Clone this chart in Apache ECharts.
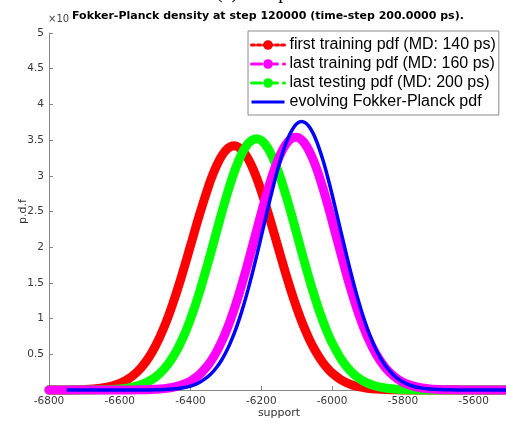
<!DOCTYPE html>
<html>
<head>
<meta charset="utf-8">
<script src="https://cdn.jsdelivr.net/npm/echarts@6/dist/echarts.min.js"></script>
<style>
  html, body { margin: 0; padding: 0; background: #fff; }
  #chart { width: 506px; height: 423px; }
</style>
</head>
<body>
<div id="chart"></div>
<script>
// support grid (x values), finer around the peaks
var support = [
  -6800, -6775, -6750, -6725, -6700, -6675, -6650, -6625, -6600, -6575,
  -6550, -6525, -6500, -6475, -6450, -6425, -6400, -6375, -6350,
  -6337.5, -6325, -6312.5, -6300, -6287.5, -6275, -6262.5, -6250, -6237.5, -6225,
  -6212.5, -6200, -6187.5, -6175, -6162.5, -6150, -6137.5, -6125, -6112.5, -6100,
  -6087.5, -6075, -6062.5, -6050, -6037.5, -6025, -6012.5, -6000,
  -5975, -5950, -5925, -5900, -5875, -5850, -5825, -5800, -5775, -5750,
  -5725, -5700, -5675, -5650, -5625, -5600, -5575, -5550, -5525, -5500
];

// p.d.f values, in units of 1e-3
var firstTraining = [
  0.000, 0.001, 0.001, 0.003, 0.007, 0.014, 0.027, 0.051, 0.091, 0.157,
  0.257, 0.404, 0.608, 0.877, 1.210, 1.598, 2.023, 2.450, 2.842,
  3.012, 3.157, 3.274, 3.358, 3.407, 3.420, 3.395, 3.334, 3.240, 3.114,
  2.960, 2.784, 2.590, 2.383, 2.170, 1.954, 1.740, 1.533, 1.337, 1.152,
  0.983, 0.829, 0.692, 0.572, 0.467, 0.377, 0.301, 0.238,
  0.144, 0.083, 0.046, 0.025, 0.013, 0.006, 0.003, 0.001, 0.001, 0,
  0, 0, 0, 0, 0, 0, 0, 0, 0, 0
];
var lastTesting = [
  0, 0, 0, 0, 0.001, 0.001, 0.003, 0.007, 0.015, 0.030,
  0.057, 0.103, 0.177, 0.292, 0.460, 0.692, 0.995, 1.366, 1.791,
  2.017, 2.244, 2.470, 2.687, 2.890, 3.073, 3.230, 3.357, 3.450, 3.504,
  3.520, 3.495, 3.431, 3.330, 3.195, 3.031, 2.842, 2.636, 2.416, 2.190,
  1.962, 1.738, 1.522, 1.318, 1.128, 0.955, 0.799, 0.661,
  0.437, 0.276, 0.167, 0.096, 0.053, 0.028, 0.014, 0.007, 0.003, 0.001,
  0.001, 0, 0, 0, 0, 0, 0, 0, 0, 0
];
var lastTraining = [
  0, 0, 0, 0, 0, 0, 0, 0, 0.000, 0.001,
  0.002, 0.004, 0.009, 0.019, 0.037, 0.070, 0.126, 0.216, 0.353,
  0.443, 0.549, 0.673, 0.816, 0.977, 1.157, 1.353, 1.564, 1.786, 2.017,
  2.250, 2.481, 2.702, 2.910, 3.097, 3.257, 3.384, 3.476, 3.528, 3.539,
  3.508, 3.437, 3.327, 3.183, 3.010, 2.813, 2.597, 2.370,
  1.906, 1.461, 1.069, 0.746, 0.496, 0.315, 0.191, 0.110, 0.061, 0.032,
  0.016, 0.008, 0.003, 0.002, 0.001, 0, 0, 0, 0, 0
];
var fokkerPlanck = [
  null, null, 0, 0, 0, 0, 0, 0, 0, 0,
  0, 0.001, 0.002, 0.006, 0.013, 0.027, 0.055, 0.105, 0.190,
  0.250, 0.325, 0.417, 0.528, 0.660, 0.813, 0.989, 1.187, 1.406, 1.643,
  1.893, 2.154, 2.418, 2.677, 2.926, 3.155, 3.356, 3.523, 3.648, 3.728,
  3.760, 3.741, 3.672, 3.557, 3.399, 3.206, 2.983, 2.738,
  2.217, 1.702, 1.238, 0.853, 0.558, 0.345, 0.203, 0.113, 0.060, 0.030,
  0.014, 0.006, 0.003, 0.001, 0, 0, 0, 0, 0, 0
];

var names = {
  first: 'first training pdf (MD: 140 ps)',
  train: 'last training pdf (MD: 160 ps)',
  test: 'last testing pdf (MD: 200 ps)',
  fp: 'evolving Fokker-Planck pdf'
};

function pairs(vals) {
  return support.map(function (x, i) { return [x, vals[i]]; });
}

var chart = echarts.init(document.getElementById('chart'));

var thick = function (name, color, vals) {
  return {
    name: name,
    type: 'line',
    data: pairs(vals),
    smooth: 0.3,
    symbol: 'circle',
    showSymbol: false,
    clip: false,
    color: color,
    lineStyle: { width: 9, color: color, cap: 'round', join: 'round' },
    emphasis: { disabled: true }
  };
};

var option = {
  animation: false,
  textStyle: { fontFamily: 'DejaVu Sans' },
  title: {
    text: 'Fokker-Planck density at step 120000 (time-step 200.0000 ps).',
    left: 72,
    top: 11,
    padding: 0,
    textStyle: { fontSize: 11, fontWeight: 'bold', color: '#000', fontFamily: 'DejaVu Sans' }
  },
  graphic: [
    {
      type: 'text', left: 216, top: -17,
      style: { text: '(c) 160 ps', fontSize: 20, fontFamily: 'Liberation Serif', fill: '#000' }
    },
    {
      type: 'text', left: 48, top: 14,
      style: { text: '\u00d710', fontSize: 10, fontFamily: 'DejaVu Sans', fill: '#444' }
    }
  ],
  legend: {
    left: 248,
    top: 31,
    orient: 'vertical',
    padding: [6, 3, 5, 2],
    itemWidth: 33,
    itemHeight: 12,
    itemGap: 3,
    borderColor: '#8a8a8a',
    borderWidth: 1,
    backgroundColor: '#fff',
    selectedMode: false,
    textStyle: { fontSize: 16, lineHeight: 16, color: '#000', fontFamily: 'Liberation Sans' },
    data: [
      { name: names.first, lineStyle: { width: 3, type: [3, 3] } },
      { name: names.train, lineStyle: { width: 3, type: [10, 6] } },
      { name: names.test, lineStyle: { width: 3, type: [10, 6] } },
      { name: names.fp, lineStyle: { width: 3, type: 'solid' }, itemStyle: { opacity: 0 } }
    ]
  },
  grid: { left: 49, right: -3, top: 33, bottom: 33, outerBoundsMode: 'none', containLabel: false },
  xAxis: {
    type: 'value',
    min: -6800,
    max: -5500,
    interval: 200,
    name: 'support',
    nameLocation: 'middle',
    nameGap: 18,
    nameMoveOverlap: false,
    nameTextStyle: { fontSize: 11, color: '#333' },
    axisLine: { lineStyle: { color: '#888', width: 1 } },
    axisTick: { inside: true, length: 4, lineStyle: { color: '#888' } },
    axisLabel: {
      fontSize: 10.5, color: '#3a3a3a', margin: 6, showMaxLabel: false,
      formatter: function (v) { return String(v); }
    },
    splitLine: { show: false }
  },
  yAxis: {
    type: 'value',
    min: 0,
    max: 5,
    interval: 0.5,
    name: 'p.d.f',
    nameLocation: 'middle',
    nameGap: 20,
    nameMoveOverlap: false,
    nameTextStyle: { fontSize: 11, color: '#333' },
    axisLine: { show: true, lineStyle: { color: '#888', width: 1 } },
    axisTick: { show: true, inside: true, length: 4, lineStyle: { color: '#888' } },
    axisLabel: {
      fontSize: 10.5, color: '#3a3a3a', margin: 5,
      formatter: function (v) { return v === 0 ? '' : String(v); }
    },
    splitLine: { show: false }
  },
  series: [
    thick(names.first, '#ff0000', firstTraining),
    thick(names.test, '#00ff00', lastTesting),
    thick(names.train, '#ff00ff', lastTraining),
    {
      name: names.fp,
      type: 'line',
      data: pairs(fokkerPlanck),
      smooth: 0.3,
      symbol: 'circle',
      showSymbol: false,
      clip: false,
      color: '#0000ff',
      lineStyle: { width: 3.5, color: '#0000ff' },
      emphasis: { disabled: true }
    }
  ]
};

chart.setOption(option);
</script>
</body>
</html>
